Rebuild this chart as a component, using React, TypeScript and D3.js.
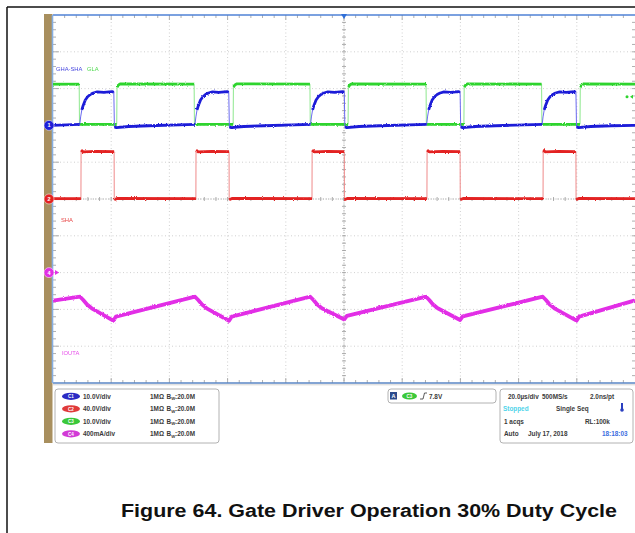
import { useMemo } from 'react';
import * as d3 from 'd3';

// ---- data (time in µs) ----

// CH3 – GLA, volts
const gla: [number, number][] = [
  [0, 11.2], [9.0, 11.2], [9.1, 0.3], [21.9, 0.3], [22.0, 10.4], [22.5, 11.0], [23.2, 11.3],
  [48.5, 11.2], [48.6, 0.3], [61.9, 0.3], [62.0, 10.4], [62.5, 11.0], [63.2, 11.3],
  [88.3, 11.2], [88.4, 0.3], [101.4, 0.3], [101.5, 10.4], [102.0, 11.0], [102.7, 11.3],
  [128.2, 11.2], [128.3, 0.3], [141.2, 0.3], [141.3, 10.4], [141.8, 11.0], [142.5, 11.3],
  [167.9, 11.2], [168.0, 0.3], [181.1, 0.3], [181.2, 10.4], [181.7, 11.0], [182.4, 11.3],
  [200, 11.2],
];

// CH1 – GHA-SHA, volts
const ghaSha: [number, number][] = [
  [0, 0.0],
  [9.2, 0.3], [9.5, 2.3], [9.9, 4.2], [10.4, 5.5], [11.1, 6.9], [11.9, 7.8], [12.8, 8.4], [13.8, 8.8],
  [15.2, 9.1], [17.5, 9.0], [20.3, 9.2], [20.9, 9.0], [21.1, -0.4], [21.8, -0.6], [26.0, -0.3], [33.0, -0.1],
  [48.8, 0.3], [49.1, 2.3], [49.5, 4.2], [50.0, 5.5], [50.7, 6.9], [51.5, 7.8], [52.4, 8.4], [53.4, 8.8],
  [54.8, 9.1], [57.0, 9.0], [59.8, 9.2], [60.4, 9.0], [60.6, -0.4], [61.3, -0.6], [65.5, -0.3], [72.5, -0.1],
  [88.5, 0.3], [88.8, 2.3], [89.2, 4.2], [89.7, 5.5], [90.4, 6.9], [91.2, 7.8], [92.1, 8.4], [93.1, 8.8],
  [94.5, 9.1], [96.8, 9.0], [99.5, 9.2], [100.1, 9.0], [100.3, -0.4], [101.0, -0.6], [105.2, -0.3], [112.2, -0.1],
  [128.4, 0.3], [128.7, 2.3], [129.1, 4.2], [129.6, 5.5], [130.3, 6.9], [131.1, 7.8], [132.0, 8.4], [133.0, 8.8],
  [134.4, 9.1], [136.7, 9.0], [139.3, 9.2], [139.9, 9.0], [140.1, -0.4], [140.8, -0.6], [145.0, -0.3], [152.0, -0.1],
  [168.1, 0.3], [168.4, 2.3], [168.8, 4.2], [169.3, 5.5], [170.0, 6.9], [170.8, 7.8], [171.7, 8.4], [172.7, 8.8],
  [174.1, 9.1], [176.4, 9.0], [179.1, 9.2], [179.7, 9.0], [179.9, -0.4], [180.6, -0.6], [184.8, -0.3], [191.8, -0.1],
  [200, 0.0],
];

// CH2 – SHA, volts
const sha: [number, number][] = [
  [0, 0.4], [9.6, 0.4], [9.65, 53.0], [10.4, 51.2], [15.0, 51.8], [21.0, 51.4], [21.05, -0.8], [22.0, 0.6],
  [49.1, 0.4], [49.15, 53.0], [49.9, 51.2], [54.5, 51.8], [60.5, 51.4], [60.55, -0.8], [61.5, 0.6],
  [89.0, 0.4], [89.05, 53.0], [89.8, 51.2], [94.4, 51.8], [100.1, 51.4], [100.15, -0.8], [101.1, 0.6],
  [128.5, 0.4], [128.55, 53.0], [129.3, 51.2], [133.9, 51.8], [139.9, 51.4], [139.95, -0.8], [140.9, 0.6],
  [168.4, 0.4], [168.45, 53.0], [169.2, 51.2], [173.8, 51.8], [179.7, 51.4], [179.75, -0.8], [180.7, 0.6],
  [200, 0.4],
];

// CH4 – IOUTA, mA
const iouta: [number, number][] = [
  [0, -305], [9.3, -262], [10.4, -298], [11.7, -347], [13.3, -388], [20.7, -523], [21.6, -479],
  [48.8, -262], [49.9, -298], [51.2, -347], [52.8, -388], [60.5, -523], [61.4, -479],
  [88.4, -262], [89.5, -298], [90.8, -347], [92.4, -388], [100.1, -510], [101.0, -470],
  [128.2, -262], [129.3, -298], [130.6, -347], [132.2, -388], [139.9, -515], [140.8, -475],
  [168.3, -262], [169.4, -298], [170.7, -347], [172.3, -388], [179.9, -523], [180.8, -479],
  [200, -302],
];

const channelNames = ['C1', 'C2', 'C3', 'C4'];
const channelScales = ['10.0V/div', '40.0V/div', '10.0V/div', '400mA/div'];
const channelPerDiv = [10, 40, 10, 400];
const channelOffsetDiv = [2, 0, 2, -2];
const channelColors = ['#1f1fd8', '#e32222', '#2fd42f', '#e22ee6'];
const channelThin = ['#6a6af0', '#f08a8a', '#8ee88e', '#f090f2'];
const channelBadge = ['#2b2bc4', '#e03a3a', '#3ac83a', '#d23ad6'];

const timebaseRows = [
  ['20.0µs/div', '500MS/s', '2.0ns/pt'],
  ['Stopped', 'Single Seq', ''],
  ['1 acqs', '', 'RL:100k'],
  ['Auto', 'July 17, 2018', '18:18:03'],
];

const W = 635;
const H = 533;
const plot = { left: 53, right: 635, top: 15, bottom: 383 };

function splitRuns(pts: [number, number][]) {
  const out: [number, number][][] = [];
  let cur: [number, number][] = [pts[0]];
  for (let i = 1; i < pts.length; i++) {
    const [x0, y0] = pts[i - 1];
    const [x1, y1] = pts[i];
    const dy = Math.abs(y1 - y0);
    if (dy > 6 && dy > 6 * Math.abs(x1 - x0)) {
      out.push(cur);
      cur = [pts[i]];
    } else cur.push(pts[i]);
  }
  out.push(cur);
  return out;
}

export default function App() {
  const x = d3.scaleLinear().domain([0, 200]).range([plot.left, plot.right]);
  const yDiv = d3.scaleLinear().domain([-5, 5]).range([plot.bottom, plot.top]);
  const divW = (plot.right - plot.left) / 10;
  const divH = (plot.bottom - plot.top) / 10;

  const chY = (ch: number) => (v: number) => yDiv(v / channelPerDiv[ch] + channelOffsetDiv[ch]);

  const traces = useMemo(() => {
    const sets: { ch: number; data: [number, number][] }[] = [
      { ch: 3, data: iouta },
      { ch: 1, data: sha },
      { ch: 2, data: gla },
      { ch: 0, data: ghaSha },
    ];
    const line = d3.line<[number, number]>().x(d => d[0]).y(d => d[1]);
    return sets.map(({ ch, data }) => {
      const y = chY(ch);
      const px = data.map(d => [x(d[0]), y(d[1])] as [number, number]);
      return {
        ch,
        thin: line(px) || '',
        thick: splitRuns(px).filter(r => r.length > 1).map(r => line(r) || ''),
      };
    });
  }, []);

  const majorX = d3.range(1, 10).map(i => plot.left + i * divW);
  const majorY = d3.range(1, 10).map(i => plot.top + i * divH);
  const minorX = d3.range(1, 50).map(i => plot.left + (i * divW) / 5);
  const minorY = d3.range(1, 50).map(i => plot.top + (i * divH) / 5);
  const cx = plot.left + 5 * divW;
  const cy = plot.top + 5 * divH;

  const font = "'Liberation Sans', Arial, sans-serif";
  const rowY = [398.5, 411, 423.5, 436];

  return (
    <div style={{ position: 'absolute', left: 0, top: 0 }}>
      <svg width={W} height={H} style={{ display: 'block', background: '#fff' }}>
        <defs>
          <filter id="noise" filterUnits="userSpaceOnUse" x={0} y={0} width={W} height={H}>
            <feTurbulence type="fractalNoise" baseFrequency="0.9" numOctaves={1} seed={4} result="t" />
            <feDisplacementMap in="SourceGraphic" in2="t" scale={2.6} xChannelSelector="R" yChannelSelector="G" />
          </filter>
          <clipPath id="plotClip">
            <rect x={plot.left} y={plot.top} width={plot.right - plot.left} height={plot.bottom - plot.top} />
          </clipPath>
        </defs>

        {/* outer frame */}
        <line x1={7} y1={7} x2={W} y2={7} stroke="#111" strokeWidth={1.5} />
        <line x1={7} y1={7} x2={7} y2={H} stroke="#111" strokeWidth={1.5} />

        {/* brown strip */}
        <rect x={44} y={14} width={8.5} height={429} fill="#a88f5e" />

        {/* grid */}
        <g stroke="#c4c4c4" strokeWidth={0.8} strokeDasharray="1,2.5">
          {majorX.map(v => (
            <line key={'vx' + v} x1={v} x2={v} y1={plot.top} y2={plot.bottom} />
          ))}
          {majorY.map(v => (
            <line key={'hy' + v} x1={plot.left} x2={plot.right} y1={v} y2={v} />
          ))}
        </g>
        <g stroke="#9a9a9a" strokeWidth={0.8}>
          <line x1={cx} x2={cx} y1={plot.top} y2={plot.bottom} strokeDasharray="1,1.5" />
          <line x1={plot.left} x2={plot.right} y1={cy} y2={cy} strokeDasharray="1,1.5" />
          {minorX.map(v => (
            <g key={'mx' + v}>
              <line x1={v} x2={v} y1={cy - 2} y2={cy + 2} />
              <line x1={v} x2={v} y1={plot.top} y2={plot.top + (Math.round((v - plot.left) / divW * 5) % 5 === 0 ? 5 : 3)} />
              <line x1={v} x2={v} y1={plot.bottom} y2={plot.bottom - (Math.round((v - plot.left) / divW * 5) % 5 === 0 ? 5 : 3)} />
            </g>
          ))}
          {minorY.map(v => (
            <g key={'my' + v}>
              <line x1={cx - 2} x2={cx + 2} y1={v} y2={v} />
              <line x1={plot.left} x2={plot.left + (Math.round((v - plot.top) / divH * 5) % 5 === 0 ? 6 : 3)} y1={v} y2={v} />
              <line x1={plot.right} x2={plot.right - 3} y1={v} y2={v} />
            </g>
          ))}
        </g>

        {/* borders */}
        <line x1={plot.left} x2={plot.right} y1={plot.top} y2={plot.top} stroke="#4f82d6" strokeWidth={1.6} />
        <line x1={plot.left} x2={plot.right} y1={plot.bottom} y2={plot.bottom} stroke="#5a86c4" strokeWidth={1.6} />
        <line x1={plot.left} x2={plot.right} y1={plot.bottom + 1.8} y2={plot.bottom + 1.8} stroke="#c9c9c9" strokeWidth={0.8} />
        <line x1={plot.left - 0.5} x2={plot.left - 0.5} y1={plot.top} y2={plot.bottom} stroke="#86aee2" strokeWidth={1.6} />

        {/* channel labels */}
        <g fontFamily={font} fontSize={5.8} opacity={0.85}>
          <text x={56} y={71} fill={channelColors[0]}>GHA-SHA</text>
          <text x={87} y={71} fill={channelColors[2]}>GLA</text>
          <text x={61} y={222} fill={channelColors[1]}>SHA</text>
          <text x={62} y={355} fill={channelColors[3]}>IOUTA</text>
        </g>

        {/* traces */}
        <g clipPath="url(#plotClip)">
          {traces.map(t => (
            <g key={'t' + t.ch}>
              <path d={t.thin} fill="none" stroke={channelThin[t.ch]} strokeWidth={1} />
              <g filter="url(#noise)">
                {t.thick.map((d, i) => (
                  <path key={i} d={d} fill="none" stroke={channelColors[t.ch]}
                    strokeWidth={t.ch === 3 ? 3.8 : 2.8} strokeLinejoin="round" />
                ))}
              </g>
            </g>
          ))}
        </g>

        {/* ground markers */}
        {[0, 1, 3].map(ch => {
          const gy = yDiv(channelOffsetDiv[ch]);
          return (
            <g key={'gm' + ch}>
              {ch === 3 && <path d={`M55,${gy - 2.5} L59,${gy} L55,${gy + 2.5}Z`} fill={channelColors[3]} />}
              <circle cx={49} cy={gy} r={5} fill={channelColors[ch]} stroke="#fff" strokeWidth={0.5} />
              <text x={49} y={gy + 2} textAnchor="middle" fontFamily={font} fontSize={5.5} fontWeight="bold" fill="#fff">
                {ch + 1}
              </text>
            </g>
          );
        })}

        {/* trigger position and level markers */}
        <path d={`M${cx - 3},${plot.top - 1} L${cx + 3},${plot.top - 1} L${cx},${plot.top + 4}Z`} fill="#2f6fd8" />
        <path d={`M${plot.right - 5},${chY(2)(7.8)} l3,-2 l0,4Z`} fill={channelColors[2]} />
        <circle cx={plot.right - 8} cy={chY(2)(7.8)} r={1.5} fill={channelColors[2]} />

        {/* channel settings box */}
        <rect x={55} y={389} width={164} height={54} rx={3} fill="#fff" stroke="#a0a0a0" strokeWidth={0.8} />
        {channelScales.map((s, i) => (
          <g key={'cs' + i} fontFamily={font} fontSize={6.4} fontWeight="bold" fill="#3a3a3a">
            <ellipse cx={71} cy={rowY[i] - 2.2} rx={9} ry={3.6} fill={channelBadge[i]} />
            <text x={71} y={rowY[i] - 0.5} textAnchor="middle" fontSize={4.5} fill="#fff">{channelNames[i]}</text>
            <text x={83} y={rowY[i]}>{s}</text>
            <text x={150} y={rowY[i]}>1MΩ</text>
            <text x={166.5} y={rowY[i]}>B<tspan fontSize={4.2} dy={1.5}>W</tspan><tspan dy={-1.5}>:20.0M</tspan></text>
          </g>
        ))}

        {/* trigger box */}
        <rect x={388} y={389} width={108} height={14} rx={3} fill="#fff" stroke="#a0a0a0" strokeWidth={0.8} />
        <rect x={390} y={392} width={7} height={7.5} fill="#2c4a8c" />
        <text x={393.5} y={398} textAnchor="middle" fontFamily={font} fontSize={5.5} fontWeight="bold" fill="#fff">A</text>
        <ellipse cx={409.5} cy={396} rx={7.5} ry={3.6} fill={channelBadge[2]} />
        <text x={409.5} y={397.6} textAnchor="middle" fontFamily={font} fontSize={4.5} fontWeight="bold" fill="#fff">C3</text>
        <path d="M420,399 L423,399 L424.5,393 L427,393" fill="none" stroke="#333" strokeWidth={0.8} />
        <text x={429} y={398.5} fontFamily={font} fontSize={6.4} fontWeight="bold" fill="#3a3a3a">7.8V</text>

        {/* timebase box */}
        <rect x={500} y={389} width={133} height={54} rx={3} fill="#fff" stroke="#a0a0a0" strokeWidth={0.8} />
        <g fontFamily={font} fontSize={6.4} fontWeight="bold" fill="#3a3a3a">
          <text x={508} y={rowY[0]}>{timebaseRows[0][0]}</text>
          <text x={542} y={rowY[0]}>{timebaseRows[0][1]}</text>
          <text x={590} y={rowY[0]}>{timebaseRows[0][2]}</text>
          <text x={503} y={rowY[1]} fill="#4fd4ea">{timebaseRows[1][0]}</text>
          <text x={556} y={rowY[1]}>{timebaseRows[1][1]}</text>
          <text x={504} y={rowY[2]}>{timebaseRows[2][0]}</text>
          <text x={585} y={rowY[2]}>{timebaseRows[2][2]}</text>
          <text x={504} y={rowY[3]}>{timebaseRows[3][0]}</text>
          <text x={528} y={rowY[3]}>{timebaseRows[3][1]}</text>
          <text x={602} y={rowY[3]} fill="#3b6ee0">{timebaseRows[3][2]}</text>
        </g>
        <rect x={621} y={403} width={2} height={6} fill="#2a3fc0" />
        <circle cx={622} cy={410} r={1.8} fill="#2a3fc0" />

        {/* caption */}
        <text x={121} y={517} fontFamily={font} fontSize={18} fontWeight="bold" fill="#111"
          textLength={496} lengthAdjust="spacingAndGlyphs">
          Figure 64. Gate Driver Operation 30% Duty Cycle
        </text>
      </svg>
    </div>
  );
}
